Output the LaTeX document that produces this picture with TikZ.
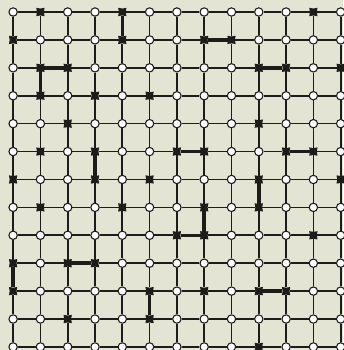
\documentclass[tikz,border=0pt]{standalone}
\usepackage{tikz}
\usetikzlibrary{shapes.geometric}
\definecolor{paper}{RGB}{228,228,212}
\definecolor{ink}{RGB}{28,28,24}

\begin{document}
\begin{tikzpicture}[x=0.978cm, y=1cm,
    dot/.style={circle, draw=ink, fill=white, line width=1.1pt, minimum size=0.3cm, inner sep=0pt},
    hit/.style={star, star points=4, star point ratio=1.7, rotate=45, fill=ink, minimum size=0.42cm, inner sep=0pt},
    wire/.style={draw=ink, line width=1.7pt},
    bond/.style={draw=ink, line width=3.6pt}]
    % paper
    \useasboundingbox[fill=paper] (-0.48,0.43) rectangle (12.09,-12.11);
    % sites that are hit (column/row)
    \foreach \c/\r in {1/0,4/0,11/0, 0/1,4/1,7/1,8/1, 1/2,2/2,9/2,10/2,12/2,
        1/3,3/3,5/3, 2/4,9/4, 1/5,3/5,6/5,7/5,10/5,11/5, 0/6,3/6,5/6,9/6,12/6,
        1/7,4/7,7/7,9/7, 6/8,7/8,11/8, 0/9,2/9,3/9, 0/10,5/10,7/10,9/10,10/10,
        2/11,5/11, 9/12}
        {\expandafter\gdef\csname hit-\c-\r\endcsname{}}
    % lattice sites
    \foreach \c in {0,...,12} {
        \foreach \r in {0,...,12} {
            \ifcsname hit-\c-\r\endcsname
                \node[hit] (s-\c-\r) at (\c,-\r) {};
            \else
                \node[dot] (s-\c-\r) at (\c,-\r) {};
            \fi
        }
    }
    % lattice bonds
    \foreach \r in {0,...,12} {
        \foreach \c [evaluate=\c as \n using int(\c+1)] in {0,...,11} {
            \draw[wire] (s-\c-\r) -- (s-\n-\r);
            \draw[wire] (s-\r-\c) -- (s-\r-\n);
        }
    }
    % occupied bonds
    \foreach \a/\b/\p/\q in {4/0/4/1, 7/1/8/1, 1/2/2/2, 1/2/1/3, 9/2/10/2,
        6/5/7/5, 10/5/11/5, 3/5/3/6, 9/6/9/7, 7/7/7/8, 6/8/7/8,
        2/9/3/9, 0/9/0/10, 9/10/10/10, 5/10/5/11}
        \draw[bond] (s-\a-\b) -- (s-\p-\q);
\end{tikzpicture}
\end{document}
